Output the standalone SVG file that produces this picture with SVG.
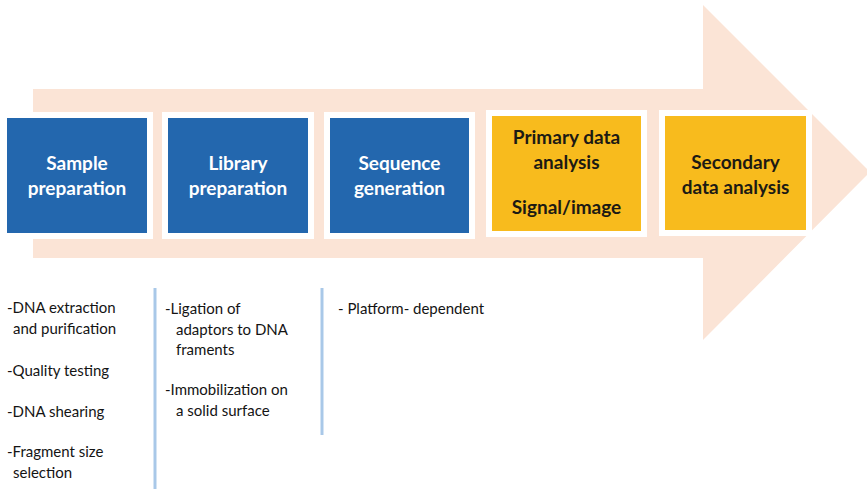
<svg xmlns="http://www.w3.org/2000/svg" width="867" height="489" viewBox="0 0 867 489">
<style>
.bg{fill:#ffffff}
.arrow{fill:#fbe4d6}
.halo{fill:#ffffff}
.blue{fill:#2367ae}
.gold{fill:#f8bb1d}
.tw{font-family:Lato,"Open Sans","Liberation Sans",sans-serif;font-weight:bold;font-size:19px;fill:#ffffff;text-anchor:middle}
.tk{font-family:Lato,"Open Sans","Liberation Sans",sans-serif;font-weight:bold;font-size:19px;fill:#1c1a14;text-anchor:middle}
.note{font-family:Lato,"Open Sans","Liberation Sans",sans-serif;font-size:15px;fill:#141414}
.sep{stroke:#a9c8e8;stroke-width:3;fill:none}
</style>
<rect class="bg" x="0" y="0" width="867" height="489"/>
<g id="arrow">
<polygon class="arrow" points="33,89 703,89 703,5 870,172 703,340 703,258 33,258"/>
</g>
<g id="node-sample">
<rect class="halo" x="1" y="112" width="152" height="127"/>
<rect class="blue" x="7" y="118" width="140" height="115"/>
<text class="tw" x="77" y="170">Sample</text>
<text class="tw" x="77" y="195">preparation</text>
</g>
<g id="node-library">
<rect class="halo" x="162" y="112" width="152" height="127"/>
<rect class="blue" x="168" y="118" width="140" height="115"/>
<text class="tw" x="238" y="170">Library</text>
<text class="tw" x="238" y="195">preparation</text>
</g>
<g id="node-sequence">
<rect class="halo" x="324" y="112" width="151" height="127"/>
<rect class="blue" x="330" y="118" width="139" height="115"/>
<text class="tw" x="399.5" y="170">Sequence</text>
<text class="tw" x="399.5" y="195">generation</text>
</g>
<g id="node-primary">
<rect class="halo" x="486" y="110" width="161" height="127"/>
<rect class="gold" x="492" y="116" width="149" height="115"/>
<text class="tk" x="566.5" y="144">Primary data</text>
<text class="tk" x="566.5" y="169">analysis</text>
<text class="tk" x="566.5" y="214">Signal/image</text>
</g>
<g id="node-secondary">
<rect class="halo" x="659" y="110" width="153" height="126"/>
<rect class="gold" x="665" y="116" width="141" height="114"/>
<text class="tk" x="735.5" y="169">Secondary</text>
<text class="tk" x="735.5" y="194">data analysis</text>
</g>
<g id="connectors">
<line class="sep" x1="155" y1="288" x2="155" y2="489"/>
<line class="sep" x1="322" y1="288" x2="322" y2="435"/>
</g>
<g id="notes-sample">
<text class="note" x="7" y="313">-DNA extraction</text>
<text class="note" x="13" y="334">and purification</text>
<text class="note" x="7" y="376">-Quality testing</text>
<text class="note" x="7" y="417">-DNA shearing</text>
<text class="note" x="7" y="457">-Fragment size</text>
<text class="note" x="13" y="478">selection</text>
</g>
<g id="notes-library">
<text class="note" x="165" y="314">-Ligation of</text>
<text class="note" x="176" y="335">adaptors to DNA</text>
<text class="note" x="176" y="355">framents</text>
<text class="note" x="165" y="395">-Immobilization on</text>
<text class="note" x="176" y="416">a solid surface</text>
</g>
<g id="notes-sequence">
<text class="note" x="338" y="314">- Platform- dependent</text>
</g>
</svg>
